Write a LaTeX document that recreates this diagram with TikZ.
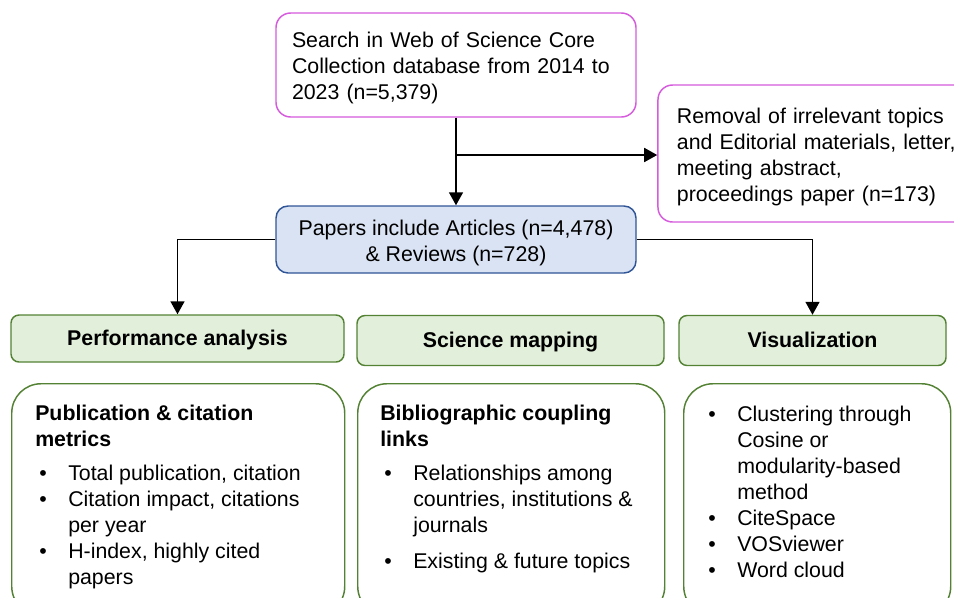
\documentclass[tikz,border=0pt]{standalone}
\usepackage{fontspec}
\setmainfont{Liberation Sans}
\usetikzlibrary{arrows.meta, positioning}
\definecolor{boxpink}{RGB}{214,90,220}
\definecolor{bluefill}{RGB}{218,227,243}
\definecolor{blueline}{RGB}{47,85,151}
\definecolor{greenfill}{RGB}{226,239,218}
\definecolor{greenline}{RGB}{84,130,53}
\newcommand{\bul}{\makebox[24.75pt][l]{\hspace{3pt}\textbullet}}
\newcommand{\cont}{\hspace*{24.75pt}}
\newcommand{\padtop}{\rule{0pt}{16.5pt}}

\begin{document}
\begin{tikzpicture}[x=0.75pt, y=-0.75pt,
        every node/.style={font=\fontsize{16}{19.5}\selectfont},
        pinkbox/.style={draw=boxpink, line width=1.1pt, rounded corners=11pt, align=left},
        bluebox/.style={draw=blueline, fill=bluefill, line width=1.1pt, rounded corners=9pt, align=center},
        headbox/.style={draw=greenline, fill=greenfill, line width=1.1pt, rounded corners=6pt, text height=14pt, text depth=3.4pt, font=\fontsize{16}{19.5}\selectfont\bfseries},
        outbox/.style={draw=greenline, line width=1.1pt, rounded corners=22pt, anchor=north west, minimum height=174pt},
        listtext/.style={anchor=north west, inner sep=0pt, align=left},
        arr/.style={-{Triangle[length=9.75pt,width=10.5pt]}, line width=1.2pt}]
                                \useasboundingbox (0,0) rectangle (954,597);
                                \clip (0,0) rectangle (954,597);
                                \node[pinkbox, text width=246pt, inner xsep=12pt, minimum height=78pt] (search) at (456,65)
                                {\padtop Search in Web of Science Core\\Collection database from 2014 to\\2023 (n=5,379)};
                                \node[pinkbox, text width=215pt, inner xsep=14.25pt, minimum height=102.75pt] (removal) at (820.3,153.5)
                                {\padtop Removal of irrelevant topics\\and Editorial materials, letter,\\meeting abstract,\\proceedings paper (n=173)};
                                \node[bluebox, minimum width=270pt, minimum height=50.25pt] (papers) at (456,239.5)
                                {\padtop Papers include Articles (n=4,478)\\\& Reviews (n=728)};
                                \node[headbox, minimum width=249.75pt, minimum height=35.25pt] (perf) at (177.5,338.5) {Performance analysis};
                                \node[headbox, minimum width=230.25pt, minimum height=37.5pt] (mapping) at (510.5,340.5) {Science mapping};
                                \node[headbox, minimum width=200.25pt, minimum height=37.5pt] (vis) at (812.5,340.5) {Visualization};
                                \node[outbox, minimum width=249.75pt] (perfbox) at (11,383) {};
                                \node[outbox, minimum width=230.25pt] (mappingbox) at (357,383) {};
                                \node[outbox, minimum width=200.25pt] (visbox) at (683,383) {};
                                \node[listtext] (perftext) at (35,405)
                                {\textbf{Publication \& citation}\\
                                \textbf{metrics}\\[6pt]
                                \bul Total publication, citation\\
                                \bul Citation impact, citations\\
                                \cont per year\\
                                \bul H-index, highly cited\\
                                \cont papers};
                                \node[listtext] (mappingtext) at (380,405)
                                {\textbf{Bibliographic coupling}\\
                                \textbf{links}\\[6pt]
                                \bul Relationships among\\
                                \cont countries, institutions \&\\
                                \cont journals\\[7.5pt]
                                \bul Existing \& future topics};
                                \node[listtext] (vistext) at (704,405.5)
                                {\bul Clustering through\\
                                \cont Cosine or\\
                                \cont modularity-based\\
                                \cont method\\
                                \bul CiteSpace\\
                                \bul VOSviewer\\
                                \bul Word cloud};
                                \coordinate (split) at (456,155);
                                \draw[arr] (search.south) -- (papers.north);
                                \draw[arr] (split) -- (split -| removal.west);
                                \draw[arr] (papers.west) -| (perf.north);
                                \draw[arr] (papers.east) -| (vis.north);
                            \end{tikzpicture}
\end{document}
